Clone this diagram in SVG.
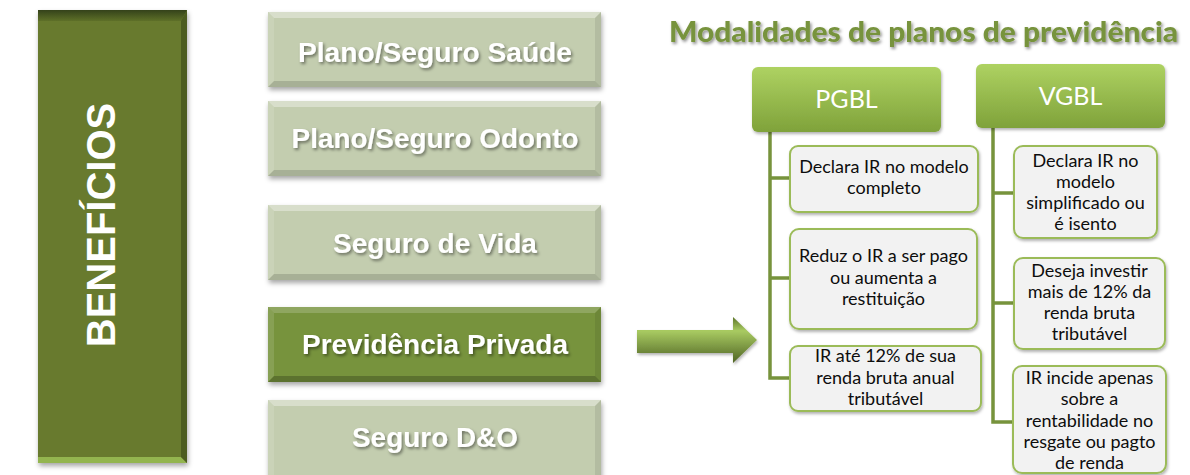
<svg xmlns="http://www.w3.org/2000/svg" width="1190" height="475" viewBox="0 0 1190 475">
<defs>
  <filter id="sh" x="-10%" y="-10%" width="130%" height="140%">
    <feDropShadow dx="1" dy="3" stdDeviation="2.5" flood-color="#000" flood-opacity="0.35"/>
  </filter>
  <filter id="tsh" x="-5%" y="-20%" width="115%" height="160%">
    <feDropShadow dx="1.5" dy="2" stdDeviation="1.5" flood-color="#000" flood-opacity="0.45"/>
  </filter>
  <filter id="csh" x="-10%" y="-10%" width="130%" height="140%">
    <feDropShadow dx="1" dy="2" stdDeviation="1.5" flood-color="#000" flood-opacity="0.3"/>
  </filter>
  <linearGradient id="hdr" x1="0" y1="0" x2="0" y2="1">
    <stop offset="0" stop-color="#AED262"/>
    <stop offset="1" stop-color="#7FA23A"/>
  </linearGradient>
  <linearGradient id="arr" x1="0" y1="0" x2="0" y2="1">
    <stop offset="0" stop-color="#5C7429"/>
    <stop offset="0.3" stop-color="#A9CB62"/>
    <stop offset="1" stop-color="#4F6424"/>
  </linearGradient>
  <linearGradient id="bTop" x1="0" y1="0" x2="0" y2="1">
    <stop offset="0" stop-color="#34421A"/>
    <stop offset="1" stop-color="#5E7028"/>
  </linearGradient>
  <style>
    .lb { fill:#C3CDAF; }
    .db { fill:#77933C; }
    .bt { fill:#FFFFFF; fill-opacity:0.35; }
    .bb { fill:#000000; fill-opacity:0.14; }
    .br { fill:#000000; fill-opacity:0.08; }
    .bl { fill:#FFFFFF; fill-opacity:0.12; }
    .bt2 { fill:#FFFFFF; fill-opacity:0.18; }
    .bb2 { fill:#000000; fill-opacity:0.22; }
    .bx { font-family:"Liberation Sans", Arial, sans-serif; font-weight:bold; font-size:27px; fill:#FFFFFF; text-anchor:middle; }
    .title { font-family:Lato, "Open Sans", sans-serif; font-weight:900; font-size:29px; fill:#77933C; }
    .hd { fill:url(#hdr); }
    .hdt { font-family:Lato, "Open Sans", sans-serif; font-size:25px; fill:#FFFFFF; text-anchor:middle; }
    .cb { fill:#F2F2F2; stroke:#9BBB59; stroke-width:2; }
    .ct { font-family:Lato, "Open Sans", sans-serif; font-size:18px; fill:#0D0D0D; text-anchor:middle; }
    .ln { fill:none; stroke:#77933C; stroke-width:3.5; }
  </style>
</defs>

<rect x="0" y="0" width="1190" height="475" fill="#FFFFFF"/>

<!-- BENEFICIOS -->
<g id="n-beneficios">
  <rect x="38" y="10" width="149" height="453" fill="#677A2E" filter="url(#sh)"/>
  <polygon points="38,10 187,10 181,21 38,21" fill="url(#bTop)"/>
  <polygon points="38,457 181,457 187,463 38,463" fill="#93B54F"/>
  <polygon points="181,21 187,10 187,463 181,457" fill="#4C5C20"/>
  <text class="bx" transform="translate(115,225) rotate(-90)" style="font-size:40px">BENEFÍCIOS</text>
</g>

<!-- Left list boxes -->
<g id="n-saude">
  <rect class="lb" x="268" y="12" width="333" height="75" filter="url(#sh)"/>
  <polygon class="bt" points="268,12 601,12 595,18 274,18"/>
  <polygon class="bb" points="268,87 601,87 595,81 274,81"/>
  <polygon class="br" points="601,12 601,87 595,81 595,18"/>
  <polygon class="bl" points="268,12 268,87 274,81 274,18"/>
  <text class="bx" x="435" y="62" filter="url(#tsh)" textLength="274" lengthAdjust="spacingAndGlyphs">Plano/Seguro  Saúde</text>
</g>
<g id="n-odonto">
  <rect class="lb" x="268" y="101" width="333" height="75" filter="url(#sh)"/>
  <polygon class="bt" points="268,101 601,101 595,107 274,107"/>
  <polygon class="bb" points="268,176 601,176 595,170 274,170"/>
  <polygon class="br" points="601,101 601,176 595,170 595,107"/>
  <polygon class="bl" points="268,101 268,176 274,170 274,107"/>
  <text class="bx" x="435" y="148" filter="url(#tsh)" textLength="287" lengthAdjust="spacingAndGlyphs">Plano/Seguro  Odonto</text>
</g>
<g id="n-vida">
  <rect class="lb" x="268" y="205" width="333" height="75" filter="url(#sh)"/>
  <polygon class="bt" points="268,205 601,205 595,211 274,211"/>
  <polygon class="bb" points="268,280 601,280 595,274 274,274"/>
  <polygon class="br" points="601,205 601,280 595,274 595,211"/>
  <polygon class="bl" points="268,205 268,280 274,274 274,211"/>
  <text class="bx" x="435" y="253" filter="url(#tsh)" textLength="204" lengthAdjust="spacingAndGlyphs">Seguro de Vida</text>
</g>
<g id="n-previdencia">
  <rect class="db" x="268" y="307" width="333" height="75" filter="url(#sh)"/>
  <polygon class="bt2" points="268,307 601,307 595,313 274,313"/>
  <polygon class="bb2" points="268,382 601,382 595,376 274,376"/>
  <polygon class="br" points="601,307 601,382 595,376 595,313"/>
  <polygon class="bl" points="268,307 268,382 274,376 274,313"/>
  <text class="bx" x="435" y="354" filter="url(#tsh)" textLength="266" lengthAdjust="spacingAndGlyphs">Previdência  Privada</text>
</g>
<g id="n-do">
  <rect class="lb" x="268" y="400" width="333" height="80" filter="url(#sh)"/>
  <polygon class="bt" points="268,400 601,400 595,406 274,406"/>
  <polygon class="br" points="601,400 601,480 595,480 595,406"/>
  <polygon class="bl" points="268,400 268,480 274,480 274,406"/>
  <text class="bx" x="435" y="447" filter="url(#tsh)" textLength="166" lengthAdjust="spacingAndGlyphs">Seguro D&amp;O</text>
</g>

<!-- Big arrow -->
<g id="n-arrow">
  <polygon points="637,330 733,330 733,317 757,340 733,363 733,353 637,353" fill="url(#arr)" filter="url(#csh)"/>
</g>

<!-- Title -->
<g id="n-title">
  <text class="title" x="669" y="42" filter="url(#tsh)" textLength="509" lengthAdjust="spacingAndGlyphs">Modalidades de planos de previdência</text>
</g>

<!-- Connectors -->
<g id="connectors">
  <path class="ln" d="M770,132 V378 H790 M770,178 H790 M770,278 H790"/>
  <path class="ln" d="M993,128 V422 H1013 M993,193 H1014 M993,303 H1014"/>
</g>

<!-- Headers -->
<g id="n-pgbl">
  <rect class="hd" x="752" y="67" width="189" height="65" rx="6" filter="url(#csh)"/>
  <text class="hdt" x="846.5" y="108">PGBL</text>
</g>
<g id="n-vgbl">
  <rect class="hd" x="976" y="64" width="189" height="64" rx="6" filter="url(#csh)"/>
  <text class="hdt" x="1070.5" y="105">VGBL</text>
</g>

<!-- PGBL children -->
<g id="n-p1">
  <rect class="cb" x="790" y="146" width="188" height="66" rx="8" filter="url(#csh)"/>
  <text class="ct" x="884" y="173">Declara IR no modelo</text>
  <text class="ct" x="884" y="194">completo</text>
</g>
<g id="n-p2">
  <rect class="cb" x="790" y="229" width="187" height="100" rx="9" filter="url(#csh)"/>
  <text class="ct" x="883.5" y="262">Reduz o IR a ser pago</text>
  <text class="ct" x="883.5" y="284">ou aumenta a</text>
  <text class="ct" x="883.5" y="305">restituição</text>
</g>
<g id="n-p3">
  <rect class="cb" x="790" y="346" width="191" height="65" rx="8" filter="url(#csh)"/>
  <text class="ct" x="885.5" y="362">IR até 12% de sua</text>
  <text class="ct" x="885.5" y="384">renda bruta anual</text>
  <text class="ct" x="885.5" y="405">tributável</text>
</g>

<!-- VGBL children -->
<g id="n-v1">
  <rect class="cb" x="1014" y="146" width="143" height="92" rx="9" filter="url(#csh)"/>
  <text class="ct" x="1085.5" y="167">Declara IR no</text>
  <text class="ct" x="1085.5" y="188">modelo</text>
  <text class="ct" x="1085.5" y="209">simplificado ou</text>
  <text class="ct" x="1085.5" y="230">é isento</text>
</g>
<g id="n-v2">
  <rect class="cb" x="1014" y="258" width="151" height="91" rx="9" filter="url(#csh)"/>
  <text class="ct" x="1089.5" y="277">Deseja investir</text>
  <text class="ct" x="1089.5" y="298">mais de 12% da</text>
  <text class="ct" x="1089.5" y="319">renda bruta</text>
  <text class="ct" x="1089.5" y="340">tributável</text>
</g>
<g id="n-v3">
  <rect class="cb" x="1013" y="366" width="153" height="107" rx="9" filter="url(#csh)"/>
  <text class="ct" x="1089.5" y="384">IR incide apenas</text>
  <text class="ct" x="1089.5" y="405">sobre a</text>
  <text class="ct" x="1089.5" y="427">rentabilidade no</text>
  <text class="ct" x="1089.5" y="448">resgate ou pagto</text>
  <text class="ct" x="1089.5" y="469">de renda</text>
</g>
</svg>
